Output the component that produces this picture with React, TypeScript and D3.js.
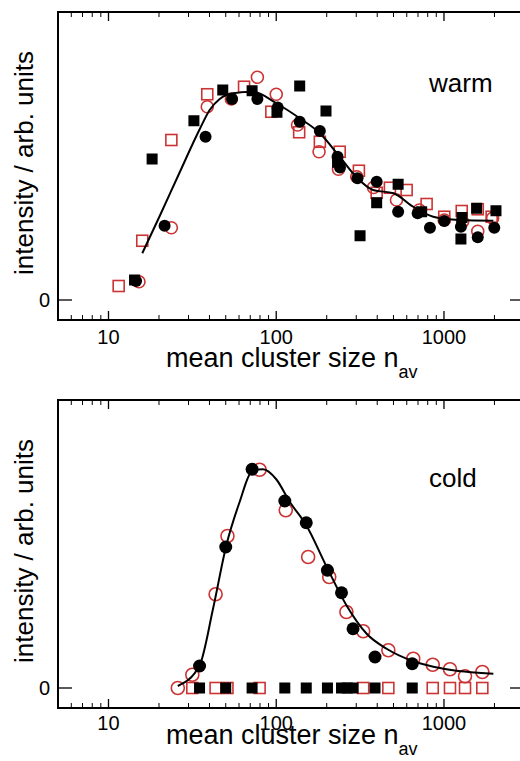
import React from 'react';
import * as d3 from 'd3';

// [mean cluster size, intensity]
const warmBlackSquares = [
  [14.3, 0.08], [18.2, 0.564], [32.3, 0.717], [48, 0.84], [71.8, 0.837], [101, 0.751],
  [138, 0.856], [198, 0.756], [232, 0.551], [316, 0.257], [397, 0.389], [533, 0.463],
  [736, 0.353], [1262, 0.244], [1280, 0.33], [1566, 0.367], [2042, 0.357],
];
const warmBlackCircles = [
  [14.6, 0.076], [21.6, 0.297], [37.9, 0.653], [54.5, 0.804], [77.2, 0.804], [102, 0.77],
  [138, 0.713], [182, 0.676], [232, 0.573], [240, 0.53], [305, 0.487], [397, 0.473],
  [533, 0.353], [697, 0.347], [825, 0.289], [1004, 0.316], [1262, 0.293], [1590, 0.251],
  [1995, 0.289],
];
const warmRedSquares = [
  [11.5, 0.056], [15.9, 0.237], [23.7, 0.64], [38.8, 0.823], [64.3, 0.853], [93.5, 0.753],
  [137, 0.671], [182, 0.633], [239, 0.593], [311, 0.517], [397, 0.429], [476, 0.449],
  [599, 0.44], [788, 0.384], [1004, 0.333], [1276, 0.356], [1590, 0.363], [1924, 0.333],
];
const warmRedCircles = [
  [15.2, 0.073], [23.7, 0.289], [38.8, 0.773], [54, 0.804], [77.2, 0.891], [100, 0.823],
  [134, 0.7], [180, 0.593], [235, 0.523], [302, 0.493], [380, 0.45], [521, 0.4],
  [713, 0.36], [1004, 0.32], [1292, 0.313], [1590, 0.275], [1950, 0.327],
];
const warmFit = [
  [15.9, 0.187], [20.2, 0.336], [26.5, 0.509], [34.9, 0.682], [40.1, 0.76], [46, 0.804],
  [55.3, 0.827], [72.6, 0.833], [100, 0.787], [138, 0.727], [182, 0.667], [239, 0.573],
  [299, 0.493], [378, 0.44], [500, 0.427], [656, 0.373], [863, 0.333], [1240, 0.32],
  [1970, 0.317],
];

const coldBlackCircles = [
  [34.9, 0.088], [50, 0.564], [71.8, 0.875], [112.5, 0.748], [151, 0.661], [202, 0.471],
  [245, 0.381], [287, 0.237], [388, 0.124], [647, 0.097],
];
const coldRedCircles = [
  [25.9, 0], [31.6, 0.053], [43.5, 0.375], [51.2, 0.608], [79.6, 0.873], [114, 0.711],
  [155, 0.524], [207, 0.444], [262, 0.304], [330, 0.227], [466, 0.151], [656, 0.117],
  [857, 0.093], [1086, 0.075], [1335, 0.047], [1693, 0.064],
];
const coldBlackSquares = [
  [34.9, 0], [50, 0], [71.8, 0], [112.5, 0], [151, 0], [202, 0], [245, 0], [265, 0],
  [287, 0], [388, 0], [647, 0],
];
const coldRedSquares = [
  [31.6, 0], [43.5, 0], [51.2, 0], [79.6, 0], [330, 0], [466, 0], [857, 0], [1086, 0],
  [1335, 0], [1693, 0],
];
const coldFit = [
  [25.9, 0.008], [34.9, 0.09], [42, 0.317], [50.5, 0.573], [60.5, 0.744], [71.8, 0.867],
  [83.4, 0.875], [100, 0.835], [120.5, 0.744], [151, 0.651], [200, 0.484], [262, 0.331],
  [346, 0.217], [455, 0.157], [656, 0.107], [995, 0.077], [1970, 0.057],
];

const xTickLabels = [10, 100, 1000];
const red = '#cc3333';
const font = '"Liberation Sans", Arial, Helvetica, sans-serif';

type Pt = number[];

interface PanelProps {
  top: number;
  label: string;
  blackSquares: Pt[];
  blackCircles: Pt[];
  redSquares: Pt[];
  redCircles: Pt[];
  fit: Pt[];
  r: number;
  labelDy: number;
  tickDy: number;
  nameDy: number;
}

const Panel = ({ top, label, blackSquares, blackCircles, redSquares, redCircles, fit, r, labelDy, tickDy, nameDy }: PanelProps) => {
  const left = 58;
  const right = 524;
  const h = 308;
  const x = d3.scaleLog().domain([5, 3000]).range([left, right]);
  const y = d3.scaleLinear().domain([-0.08, 1.152]).range([top + h, top]);
  const bottom = top + h;
  const minor = x.ticks().filter((t) => !xTickLabels.includes(t) && t > 5);
  const line = d3
    .line<Pt>()
    .x((d) => x(d[0]))
    .y((d) => y(d[1]))
    .curve(d3.curveMonotoneX);
  const s = 11;
  return (
    <g>
      {/* ticks */}
      {minor.map((t) => (
        <g key={'m' + t} stroke="#000" strokeWidth={1}>
          <line x1={x(t)} x2={x(t)} y1={bottom} y2={bottom - 5} />
          <line x1={x(t)} x2={x(t)} y1={top} y2={top + 5} />
        </g>
      ))}
      {xTickLabels.map((t) => (
        <g key={'M' + t}>
          <line x1={x(t)} x2={x(t)} y1={bottom} y2={bottom - 9} stroke="#000" strokeWidth={1.3} />
          <line x1={x(t)} x2={x(t)} y1={top} y2={top + 9} stroke="#000" strokeWidth={1.3} />
          <text x={x(t)} y={bottom + tickDy} textAnchor="middle" fontSize={20} fontFamily={font}>
            {t}
          </text>
        </g>
      ))}
      <line x1={left} x2={left + 14} y1={y(0)} y2={y(0)} stroke="#000" strokeWidth={1.3} />
      <line x1={right - 14} x2={right} y1={y(0)} y2={y(0)} stroke="#000" strokeWidth={1.3} />
      <text x={50} y={y(0) + 7} textAnchor="end" fontSize={20} fontFamily={font}>
        0
      </text>
      <rect x={left} y={top} width={right - left} height={h} fill="none" stroke="#000" strokeWidth={2} />

      {/* data */}
      {redSquares.map((d, i) => (
        <rect key={'rs' + i} x={x(d[0]) - s / 2} y={y(d[1]) - s / 2} width={s} height={s}
          fill="#fff" stroke={red} strokeWidth={1.6} />
      ))}
      {redCircles.map((d, i) => (
        <circle key={'rc' + i} cx={x(d[0])} cy={y(d[1])} r={r} fill="none" stroke={red} strokeWidth={1.6} />
      ))}
      {blackSquares.map((d, i) => (
        <rect key={'bs' + i} x={x(d[0]) - s / 2} y={y(d[1]) - s / 2} width={s} height={s} fill="#000" />
      ))}
      {blackCircles.map((d, i) => (
        <circle key={'bc' + i} cx={x(d[0])} cy={y(d[1])} r={r} fill="#000" />
      ))}
      <path d={line(fit) || ''} fill="none" stroke="#000" strokeWidth={2} />

      <text x={429} y={top + nameDy} fontSize={26} fontFamily={font}>
        {label}
      </text>
      <text
        transform={`translate(33, ${top + 151}) rotate(-90)`}
        textAnchor="middle"
        fontSize={26}
        fontFamily={font}
      >
        intensity / arb. units
      </text>
      <text x={166} y={bottom + labelDy} fontSize={27} fontFamily={font}>
        mean cluster size n
        <tspan dy={11} fontSize={18}>av</tspan>
      </text>
    </g>
  );
};

export default function App() {
  return (
    <svg
      width={520}
      height={761}
      style={{ position: 'absolute', left: 0, top: 0, background: '#fff' }}
    >
      <Panel top={12} label="warm" blackSquares={warmBlackSquares} blackCircles={warmBlackCircles}
        redSquares={warmRedSquares} redCircles={warmRedCircles} fit={warmFit} r={6}
        labelDy={47} tickDy={24} nameDy={80} />
      <Panel top={400} label="cold" blackSquares={coldBlackSquares} blackCircles={coldBlackCircles}
        redSquares={coldRedSquares} redCircles={coldRedCircles} fit={coldFit} r={6.5}
        labelDy={36} tickDy={22} nameDy={87} />
    </svg>
  );
}
